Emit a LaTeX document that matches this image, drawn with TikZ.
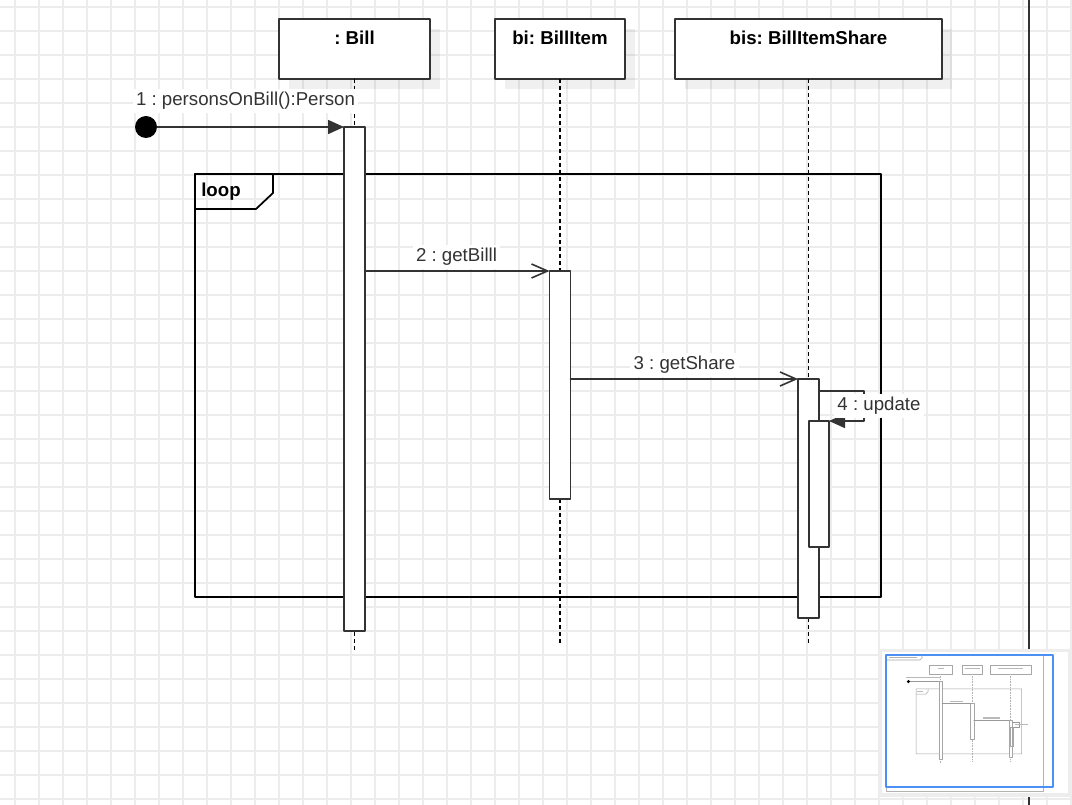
\documentclass[tikz,border=0pt]{standalone}
\usepackage{fontspec}
\setmainfont{Liberation Sans}
\usetikzlibrary{arrows.meta,shadows}
\definecolor{tttttt}{rgb}{0.2,0.2,0.2}
\definecolor{ebebeb}{rgb}{0.925,0.925,0.925}
\definecolor{eeeeee}{rgb}{0.93,0.93,0.93}
\definecolor{ttzzff}{rgb}{0.3,0.56,0.96}
\frenchspacing
\begin{document}
\begin{tikzpicture}[line cap=round,line join=round,x=0.75pt,y=-0.75pt,
  >={Triangle[length=12pt,width=10.5pt]},
  head/.style={draw=tttttt,fill=white,line width=1.4pt,inner sep=0pt,outer sep=0pt,minimum height=45pt,
    drop shadow={shadow xshift=7.5pt,shadow yshift=-7.5pt,fill=black,opacity=0.06}},
  headtxt/.style={font=\bfseries\fontsize{14}{16}\selectfont,anchor=base,inner sep=0pt},
  act/.style={draw=tttttt,fill=white,line width=1.4pt,minimum width=15.75pt,inner sep=0pt,outer sep=0pt,anchor=north},
  life/.style={line width=1.3pt,line cap=butt,dash pattern=on 3pt off 2.25pt},
  msg/.style={draw=tttttt,line width=1.2pt},
  open/.style={-{Straight Barb[length=12pt,width=10.5pt,line width=1.2pt]}},
  msgtxt/.style={font=\fontsize{14}{16}\selectfont,text=tttttt,anchor=base,fill=white,inner sep=2.5pt}]
\useasboundingbox (0,0) rectangle (1072,805);
\clip (0,0) rectangle (1072,805);
% grid
\foreach \gx in {15,39,...,1071} \draw[ebebeb,line width=1.1pt,line cap=butt] (\gx,0) -- (\gx,805);
\foreach \gy in {7,31,...,799} \draw[ebebeb,line width=1.1pt,line cap=butt] (0,\gy) -- (1072,\gy);
\draw[tttttt,line width=1.6pt,line cap=butt] (1029,0) -- (1029,805);
% lifelines
\node[head,minimum width=113.25pt] (bill) at (354.5,49) {};
\node[head,minimum width=97.5pt] (item) at (560,49) {};
\node[head,minimum width=200.25pt] (share) at (808.5,49) {};
\node[headtxt] (billTxt) at ([yshift=-19.5pt]bill.north) {: Bill};
\node[headtxt] (itemTxt) at ([yshift=-19.5pt]item.north) {bi: BillItem};
\node[headtxt] (shareTxt) at ([yshift=-19.5pt]share.north) {bis: BillItemShare};
\coordinate (billEnd) at (354.5,652);
\coordinate (itemEnd) at (560,643);
\coordinate (shareEnd) at (808.5,643);
\draw[life] (bill.south) -- (billEnd);
\draw[life] (item.south) -- (itemEnd);
\draw[life] (share.south) -- (shareEnd);
% loop frame
\node[draw=black,line width=1.3pt,minimum width=514.5pt,minimum height=317.25pt,inner sep=0pt,outer sep=0pt] (loop) at (538,385.5) {};
\draw[black,line width=1.3pt] (loop.north west) -- ++(78,0) -- ++(0,19) -- ++(-17,16) -- ++(-61,0);
\node[font=\bfseries\fontsize{14}{16}\selectfont,anchor=base west,inner sep=0pt] (loopTxt) at (201,197) {loop};
% activations
\node[act,minimum height=378pt] (actBill) at (bill.south |- 0,127) {};
\node[act,minimum height=171pt] (actItem) at (item.south |- 0,271) {};
\node[act,minimum height=179.25pt] (actShare) at (share.south |- 0,379) {};
\node[act,minimum width=15pt,minimum height=94.5pt] (actUpd) at (819,421) {};
% messages
\node[circle,fill=black,minimum size=16.5pt,inner sep=0pt] (start) at (146,127) {};
\draw[msg,->] (start) -- (actBill.north west);
\draw[msg,open] (actBill.east |- actItem.north) -- (actItem.north west);
\draw[msg,open] (actItem.east |- actShare.north) -- (actShare.north west);
\coordinate (updBend) at (864,391);
\draw[msg,->] (actShare.east |- updBend) -- (updBend) |- (actUpd.north east);
\node[msgtxt] (msgA) at (245.5,106) {1 : personsOnBill():Person};
\node[msgtxt] (msgB) at (456.5,262) {2 : getBilll};
\node[msgtxt] (msgC) at (684.5,370) {3 : getShare};
\node[msgtxt] (msgD) at (879,411) {4 : update};
% overview
\fill[eeeeee] (878,649) rectangle (1072,797);
\fill[white] (882,652) rectangle (1068,793);
\draw[gray!60,line width=0.5pt] (886,655) rectangle (1043,791);
\draw[gray!70,line width=0.4pt] (887,655) -- (922,655) -- (922,658) -- (920,660) -- (887,660);
\draw[gray!60,line width=1pt,line cap=butt] (889,657.5) -- (917,657.5);
\begin{scope}[shift={(886,662)},scale=0.154]
\draw[gray!70,line width=0.4pt] (279,19) rectangle (430,79) (495,19) rectangle (625,79) (675,19) rectangle (942,79);
\draw[gray!60,line width=0.3pt,line cap=butt,dash pattern=on 0.6pt off 0.6pt] (354.5,79) -- (354.5,652) (560,79) -- (560,643) (808.5,79) -- (808.5,643);
\draw[gray!70,line width=0.4pt] (195,174) rectangle (881,597) (195,174) -- (273,174) -- (273,193) -- (256,209) -- (195,209);
\draw[gray!70,line width=0.4pt,fill=white] (343,127) rectangle (364,631) (549,271) rectangle (570,499) (798,379) rectangle (819,618) (809,421) rectangle (829,547);
\draw[gray!80,line width=0.4pt] (146,127) -- (343,127) (364,271) -- (549,271) (570,379) -- (798,379) (819,391) -- (864,391) -- (864,421) -- (829,421);
\fill[black] (146,127) circle (11);
\foreach \ax/\bx/\ly in {335/376/40,511/609/40,727/891/40,132/359/99,201/241/191,415/498/255,632/737/363,836/922/404}
  \draw[gray!55,line width=0.9pt,line cap=butt] (\ax,\ly) -- (\bx,\ly);
\end{scope}
\draw[ttzzff,line width=1.4pt] (886,655) rectangle (1053,787);
\end{tikzpicture}
\end{document}
